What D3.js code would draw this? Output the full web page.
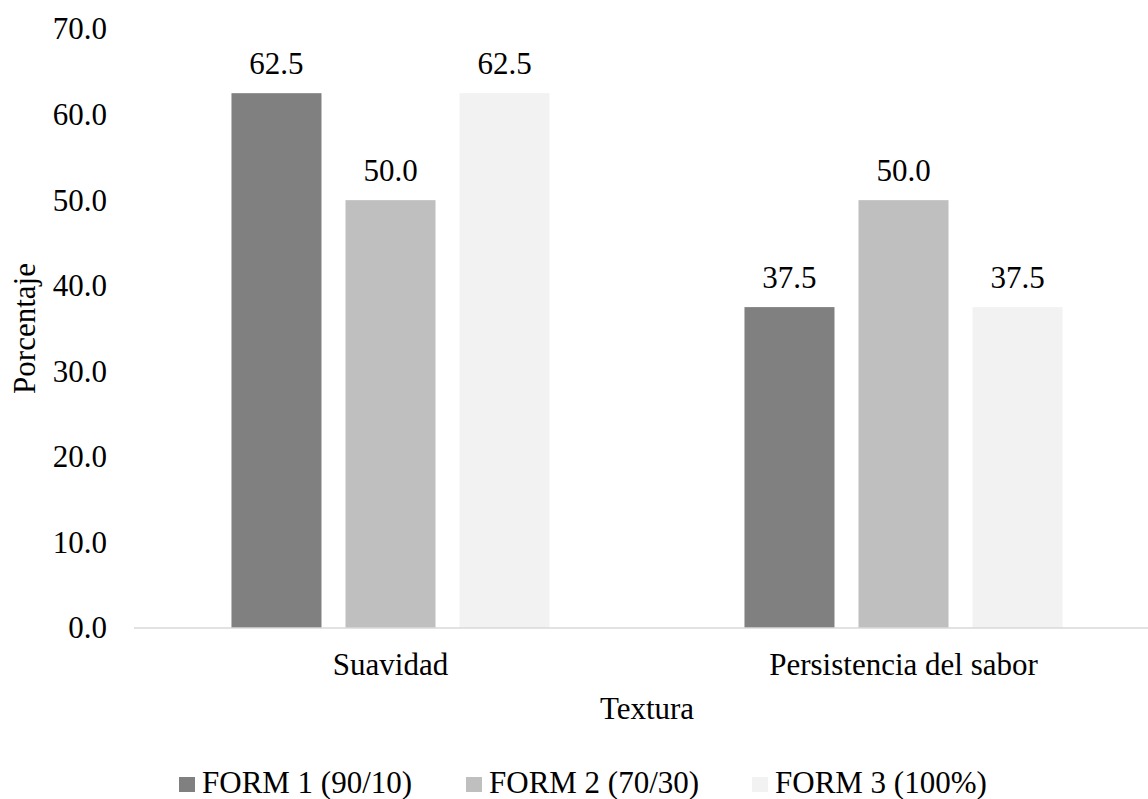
<!DOCTYPE html>
<html>
<head>
<meta charset="utf-8">
<script src="https://cdn.jsdelivr.net/npm/d3@7"></script>
<style>
  html, body { margin: 0; padding: 0; background: #fff; }
  svg { display: block; }
  svg text { font-family: "Times New Roman", "Liberation Serif", Times, serif; fill: #000; }
</style>
</head>
<body>
<svg id="chart" width="1148" height="799"></svg>
<script>
const categories = ["Suavidad", "Persistencia del sabor"];
const seriesNames = ["FORM 1 (90/10)", "FORM 2 (70/30)", "FORM 3 (100%)"];
const form1 = [62.5, 37.5];
const form2 = [50.0, 50.0];
const form3 = [62.5, 37.5];
const yTicks = [0, 10, 20, 30, 40, 50, 60, 70];
const colors = ["#808080", "#bfbfbf", "#f2f2f2"];
const xTitle = "Textura";
const yTitle = "Porcentaje";

const seriesValues = [form1, form2, form3];
const W = 1148, H = 799;
const fs = 31;
const FONT = '"Times New Roman", "Liberation Serif", Times, serif';
const svg = d3.select("#chart").attr("font-family", FONT);

const plotLeft = 134, plotRight = 1160, plotBottom = 628, plotTop = 29;

const x0 = d3.scaleBand().domain(categories).range([plotLeft, plotRight]).paddingInner(0).paddingOuter(0);
const bw0 = x0.bandwidth();
const x1 = d3.scaleBand().domain(seriesNames)
  .range([bw0 * 0.19, bw0 * 0.81]).paddingInner(24 / 114).paddingOuter(0);
const y = d3.scaleLinear().domain([0, 70]).range([plotBottom, plotTop]);

// y tick labels
const yAxis = d3.axisLeft(y).tickValues(yTicks).tickFormat(d3.format(".1f")).tickSize(0).tickPadding(0);
const gy = svg.append("g").attr("transform", `translate(107,0)`).call(yAxis);
gy.attr("font-family", FONT).attr("font-size", fs);
gy.select(".domain").remove();
gy.selectAll("text").attr("fill", "#000").attr("dy", "0.32em");

// bars
const data = [];
categories.forEach((c, ci) => {
  seriesNames.forEach((s, si) => {
    data.push({ c, s, si, v: seriesValues[si][ci] });
  });
});

svg.append("g").selectAll("rect").data(data).join("rect")
  .attr("x", d => x0(d.c) + x1(d.s))
  .attr("y", d => y(d.v))
  .attr("width", x1.bandwidth())
  .attr("height", d => y(0) - y(d.v))
  .attr("fill", d => colors[d.si]);

// value labels
svg.append("g").selectAll("text").data(data).join("text")
  .attr("x", d => x0(d.c) + x1(d.s) + x1.bandwidth() / 2)
  .attr("y", d => y(d.v) - 19)
  .attr("text-anchor", "middle")
  .attr("font-size", fs)
  .text(d => d3.format(".1f")(d.v));

// x axis
const xAxis = d3.axisBottom(x0).tickSize(0).tickPadding(0);
const gx = svg.append("g").attr("transform", `translate(0,${plotBottom})`).call(xAxis);
gx.attr("font-family", FONT).attr("font-size", fs);
gx.select(".domain").attr("stroke", "#d9d9d9").attr("stroke-width", 1.5)
  .attr("d", `M${plotLeft},0H${W}`);
gx.selectAll("text").attr("fill", "#000").attr("dy", null).attr("y", 47);

// axis titles
svg.append("text").attr("x", 647).attr("y", 719)
  .attr("text-anchor", "middle").attr("font-size", fs).text(xTitle);
svg.append("text").attr("transform", `translate(35,${(plotTop + plotBottom) / 2}) rotate(-90)`)
  .attr("text-anchor", "middle").attr("font-size", fs).text(yTitle);

// legend
const legendX = [179, 466, 752];
const lg = svg.append("g").selectAll("g").data(seriesNames).join("g")
  .attr("transform", (d, i) => `translate(${legendX[i]},0)`);
lg.append("rect").attr("x", 0).attr("y", 777).attr("width", 16).attr("height", 15)
  .attr("fill", (d, i) => colors[i]);
lg.append("text").attr("x", 23).attr("y", 793).attr("font-size", fs).text(d => d);
</script>
</body>
</html>
